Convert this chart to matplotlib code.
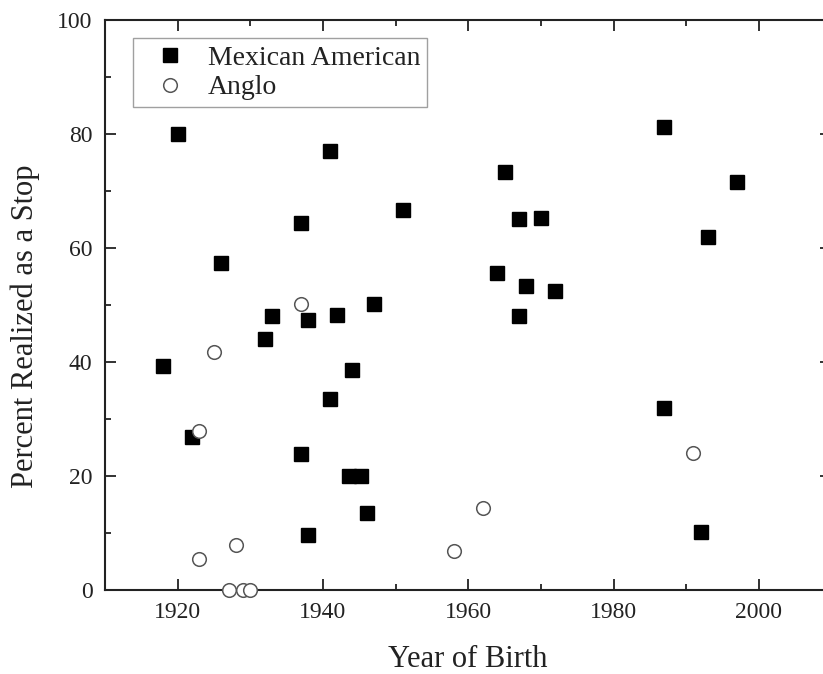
import matplotlib
matplotlib.use('Agg')
import matplotlib.pyplot as plt
from matplotlib.ticker import MultipleLocator

# Mexican American speakers: year of birth and percent realized as a stop
mex_year = [1918, 1920, 1922, 1926, 1932, 1933, 1937, 1937, 1938, 1938,
            1941, 1941, 1942, 1944, 1943.6, 1945.2, 1946, 1947, 1951,
            1964, 1965, 1967, 1967, 1968, 1970, 1972,
            1987, 1987, 1992, 1993, 1997]
mex_pct = [39.3, 80.0, 26.8, 57.3, 44.0, 48.0, 64.4, 23.9, 47.4, 9.6,
           77.0, 33.5, 48.2, 38.6, 20.0, 20.0, 13.5, 50.1, 66.7,
           55.7, 73.4, 65.1, 48.1, 53.4, 65.2, 52.5,
           81.3, 32.0, 10.1, 62.0, 71.5]

# Anglo speakers
anglo_year = [1923, 1923, 1925, 1927, 1928, 1929, 1930, 1937, 1958, 1962, 1991]
anglo_pct = [27.9, 5.4, 41.8, 0.0, 7.9, 0.0, 0.0, 50.2, 6.8, 14.4, 24.1]

x_ticks = [1920, 1940, 1960, 1980, 2000]
y_ticks = [0, 20, 40, 60, 80, 100]

plt.rcParams['font.family'] = ['Liberation Serif', 'DejaVu Serif']
text_color = '#222222'

fig = plt.figure(figsize=(8.23, 6.74), dpi=100)
ax = fig.add_axes([105 / 823, 1 - 590 / 674, 726.5 / 823, 570 / 674])

ax.plot(mex_year, mex_pct, 's', color='black', markersize=10,
        linestyle='none', label='Mexican American', clip_on=False)
ax.plot(anglo_year, anglo_pct, 'o', markerfacecolor='white',
        markeredgecolor='#555555', markeredgewidth=1.1, markersize=9.8,
        linestyle='none', label='Anglo', clip_on=False, zorder=3)

ax.set_xlim(1910, 2010)
ax.set_ylim(0, 100)
ax.set_xticks(x_ticks)
ax.set_yticks(y_ticks)
ax.xaxis.set_minor_locator(MultipleLocator(10))
ax.yaxis.set_minor_locator(MultipleLocator(10))
ax.tick_params(which='both', direction='in', top=True, right=True,
               colors=text_color, width=1.3, labelsize=17)
ax.tick_params(axis='x', pad=9)
ax.tick_params(axis='y', pad=9)
ax.tick_params(which='major', length=8)
ax.tick_params(which='minor', length=4)
for spine in ax.spines.values():
    spine.set_linewidth(1.5)
    spine.set_color(text_color)

ax.set_xlabel('Year of Birth', fontsize=22, color=text_color)
ax.set_ylabel('Percent Realized as a Stop', fontsize=22, color=text_color)
# label positions as in the (cropped) original figure
ax.xaxis.set_label_coords(0.5, -(645 - 590) / 570)
ax.yaxis.set_label_coords(-(105 - 40) / 726.5, (590 - 326) / 570)

leg = ax.legend(loc='upper left', bbox_to_anchor=(0.0385, 0.968),
                borderaxespad=0, fontsize=20, fancybox=False,
                handletextpad=0.25, borderpad=0.25, labelspacing=0.15,
                handlelength=2.2)
leg.get_frame().set_edgecolor('#888888')
leg.get_frame().set_linewidth(1.0)
for t in leg.get_texts():
    t.set_color(text_color)

fig.savefig('out.png', dpi=100)
